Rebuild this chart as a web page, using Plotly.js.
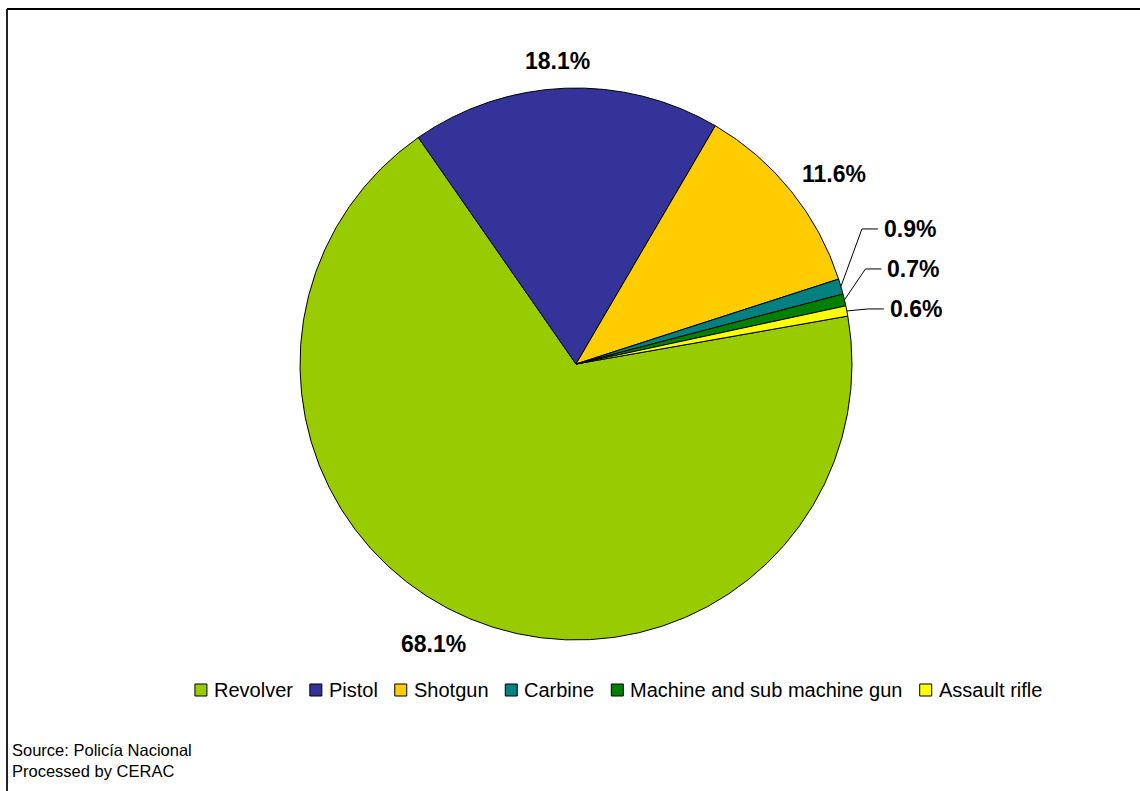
<!DOCTYPE html>
<html>
<head>
<meta charset="utf-8">
<script src="https://cdn.plot.ly/plotly-3.0.1.min.js"></script>
<style>html,body{margin:0;padding:0;background:#fff;}#chart{width:1140px;height:791px;}</style>
</head>
<body>
<div id="chart"></div>
<script>
const categories = ["Revolver", "Pistol", "Shotgun", "Carbine", "Machine and sub machine gun", "Assault rifle"];
const shares = [68.1, 18.1, 11.6, 0.9, 0.7, 0.6];
const colors = ["#99CC00", "#333399", "#FFCC00", "#008080", "#008000", "#FFFF00"];
const sourceLines = ["Source: Policía Nacional", "Processed by CERAC"];

// ---- layout constants (pixels) ----
const W = 1140, H = 791;
const CX = 576, CY = 364, R = 276;
const ROT = 80;
const FONT = "Liberation Sans, Arial, Helvetica, sans-serif";
const px = x => x / W;
const py = y => 1 - y / H;

const trace = {
  type: "pie",
  labels: categories,
  values: shares,
  sort: false,
  direction: "clockwise",
  rotation: ROT,
  marker: { colors: colors, line: { color: "#000000", width: 1 } },
  textposition: "none",
  hoverinfo: "label+percent",
  showlegend: false,
  domain: { x: [px(CX - R), px(CX + R)], y: [py(CY + R), py(CY - R)] }
};

const shapes = [
  { type: "line", xref: "paper", yref: "paper", x0: px(7), x1: 1.05, y0: py(9), y1: py(9), line: { color: "#000000", width: 2 } },
  { type: "line", xref: "paper", yref: "paper", x0: px(7), x1: px(7), y0: py(9), y1: -0.05, line: { color: "#222222", width: 2 } }
];
const annotations = [];

// ---- data labels ----
const total = shares.reduce((s, v) => s + v, 0);
let ang = ROT;
const mids = shares.map(v => { const span = v / total * 360; const m = ang + span / 2; ang += span; return m; });
const small = shares.map((v, i) => i).filter(i => shares[i] < 2);
const labelFont = { family: FONT, size: 23, color: "#000000", weight: 700 };
const fmt = v => v.toFixed(1) + "%";

shares.forEach((v, i) => {
  const t = mids[i] * Math.PI / 180;
  const sx = Math.sin(t), sy = -Math.cos(t);
  if (shares[i] >= 2) {
    const gap = 15, halfW = 34, halfH = 12;
    const x = CX + sx * (R + gap + halfW) + (sx < -0.2 ? -18 : sx > 0.2 ? 5 : -6);
    const y = CY + sy * (R + gap + halfH);
    annotations.push({ text: fmt(v), xref: "paper", yref: "paper", x: px(x), y: py(y), xanchor: "center", yanchor: "middle", showarrow: false, font: labelFont });
  }
});
// stacked labels for thin slices, with leader lines
const lastT = mids[small[small.length - 1]] * Math.PI / 180;
const lastEdgeY = CY - R * Math.cos(lastT);
small.forEach((i, k) => {
  const t = mids[i] * Math.PI / 180;
  const ex = CX + R * Math.sin(t), ey = CY - R * Math.cos(t);
  const ly = lastEdgeY - 2 - 40 * (small.length - 1 - k);
  const elbowX = ex + 21, endX = elbowX + 16;
  shapes.push({ type: "path", xref: "paper", yref: "paper",
    path: `M ${px(ex)} ${py(ey)} L ${px(elbowX)} ${py(ly)} L ${px(endX)} ${py(ly)}`,
    line: { color: "#000000", width: 1 } });
  annotations.push({ text: fmt(shares[i]), xref: "paper", yref: "paper", x: px(endX + 4), y: py(ly), xanchor: "left", yanchor: "middle", showarrow: false, font: labelFont });
});

// ---- custom legend ----
const legFontSize = 20;
const ctx = document.createElement("canvas").getContext("2d");
ctx.font = legFontSize + "px 'Liberation Sans', Arial, sans-serif";
const sq = 12, sqGap = 7, itemGap = 17, legCX = 618.5, legY = 690;
const widths = categories.map(c => ctx.measureText(c).width);
const legTotal = widths.reduce((s, w) => s + sq + sqGap + w, 0) + itemGap * (categories.length - 1);
let lx = legCX - legTotal / 2;
categories.forEach((c, i) => {
  shapes.push({ type: "rect", xref: "paper", yref: "paper", x0: px(lx), x1: px(lx + sq), y0: py(legY + sq / 2), y1: py(legY - sq / 2), fillcolor: colors[i], line: { color: "#000000", width: 1 } });
  annotations.push({ text: c, xref: "paper", yref: "paper", x: px(lx + sq + sqGap - 1), y: py(legY), xanchor: "left", yanchor: "middle", showarrow: false, borderpad: 0, font: { family: FONT, size: legFontSize, color: "#000000" } });
  lx += sq + sqGap + widths[i] + itemGap;
});

// ---- source notes ----
sourceLines.forEach((t, i) => annotations.push({
  text: t, xref: "paper", yref: "paper", x: px(10), y: py(750 + i * 21),
  xanchor: "left", yanchor: "middle", showarrow: false,
  font: { family: FONT, size: 16.5, color: "#000000" }
}));

const layout = {
  width: W, height: H,
  margin: { l: 0, r: 0, t: 0, b: 0 },
  paper_bgcolor: "#ffffff",
  showlegend: false,
  shapes: shapes,
  annotations: annotations
};

Plotly.newPlot("chart", [trace], layout, { displayModeBar: false, staticPlot: true });
</script>
</body>
</html>
